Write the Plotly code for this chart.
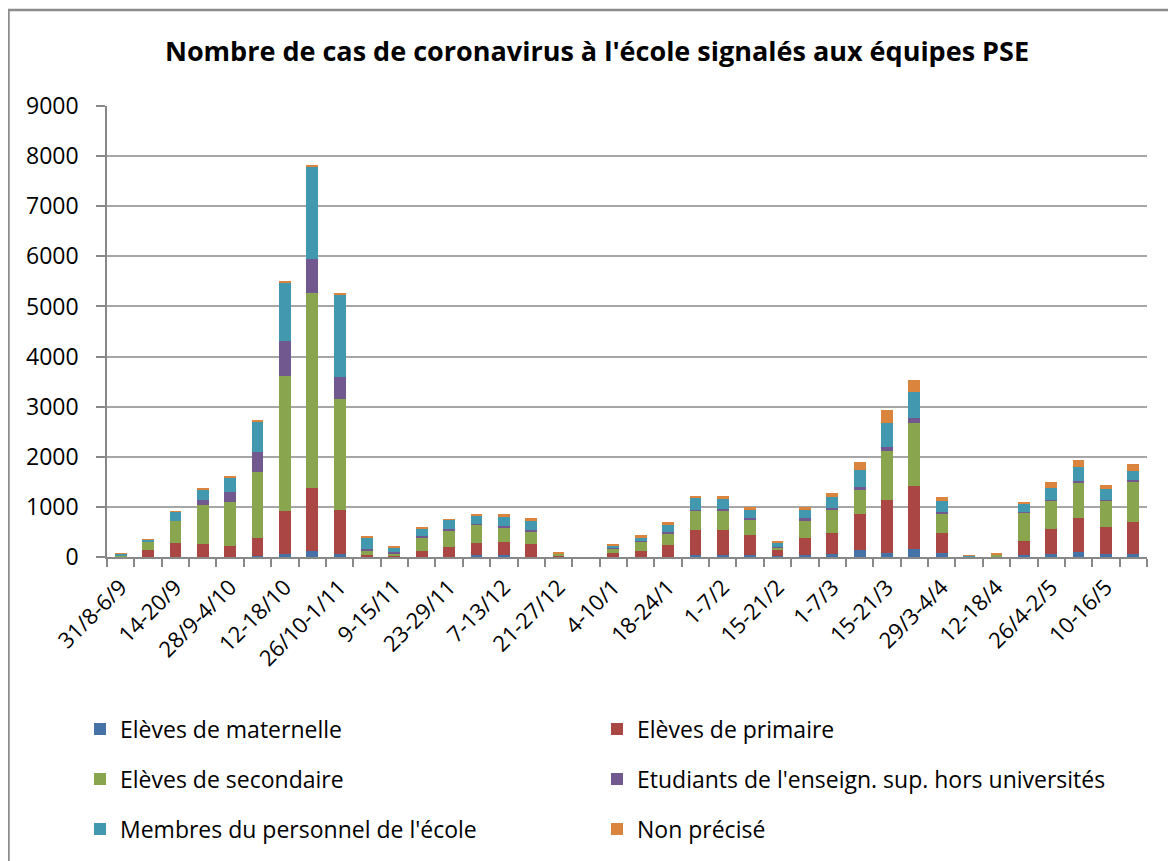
import plotly.graph_objects as go

weeks = ["31/8-6/9", "7-13/9", "14-20/9", "21-27/9", "28/9-4/10", "5-11/10", "12-18/10",
         "19-25/10", "26/10-1/11", "2-8/11", "9-15/11", "16-22/11", "23-29/11", "30/11-6/12",
         "7-13/12", "14-20/12", "21-27/12", "28/12-3/1", "4-10/1", "11-17/1", "18-24/1",
         "25-31/1", "1-7/2", "8-14/2", "15-21/2", "22-28/2", "1-7/3", "8-14/3", "15-21/3",
         "22-28/3", "29/3-4/4", "5-11/4", "12-18/4", "19-25/4", "26/4-2/5", "3-9/5",
         "10-16/5", "17-23/5"]

maternelle = [3, 5, 10, 10, 10, 27, 67, 113, 67, 10, 5, 5, 5, 33, 33, 5, 3, 0, 3, 5,
              5, 33, 33, 33, 20, 33, 67, 133, 87, 167, 87, 3, 2, 33, 60, 93, 60, 60]
primaire = [8, 130, 260, 257, 210, 353, 847, 1267, 867, 27, 15, 110, 195, 240, 267, 248, 30, 0, 67, 113,
            227, 507, 507, 400, 127, 353, 420, 720, 1053, 1240, 393, 2, 5, 293, 507, 687, 540, 633]
secondaire = [25, 165, 450, 767, 873, 1313, 2700, 3887, 2213, 73, 30, 265, 333, 367, 287, 260, 30, 0, 100, 187,
              233, 393, 387, 313, 40, 333, 447, 493, 973, 1260, 373, 2, 35, 553, 553, 687, 520, 813]
etudiants = [2, 3, 5, 107, 207, 393, 687, 687, 440, 53, 55, 33, 33, 27, 33, 27, 2, 0, 13, 20,
             27, 13, 33, 27, 13, 53, 47, 53, 73, 107, 47, 0, 0, 27, 27, 47, 27, 27]
personnel = [22, 45, 175, 207, 293, 613, 1167, 1827, 1660, 220, 75, 153, 180, 167, 180, 173, 2, 0, 47, 73,
             153, 247, 207, 167, 80, 167, 220, 347, 480, 527, 213, 25, 5, 160, 233, 287, 207, 187]
non_precise = [3, 3, 5, 33, 20, 27, 20, 47, 20, 27, 20, 27, 7, 20, 53, 60, 20, 0, 27, 33,
               47, 27, 53, 60, 47, 53, 73, 153, 260, 233, 80, 3, 20, 27, 107, 133, 80, 133]

series_names = ["Elèves de maternelle", "Elèves de primaire", "Elèves de secondaire",
                "Etudiants de l'enseign. sup. hors universités",
                "Membres du personnel de l'école", "Non précisé"]
series_values = [maternelle, primaire, secondaire, etudiants, personnel, non_precise]
colors = ["#4572A7", "#AA4643", "#89A54E", "#71588F", "#4198AF", "#DB843D"]
legend_ids = ["legend", "legend", "legend2", "legend2", "legend3", "legend3"]

tick_text = [w if i % 2 == 0 else "" for i, w in enumerate(weeks)]

FONT = "Open Sans"
W, H = 1168, 853
ML, MR, MT, MB = 99, 29, 98, 304

fig = go.Figure()
for name, vals, col, lg in zip(series_names, series_values, colors, legend_ids):
    fig.add_trace(go.Bar(x=weeks, y=vals, name=name, marker_color=col,
                         marker_line_width=0, legend=lg))

pw = W - ML - MR
ph = H - MT - MB

legend_common = dict(orientation="h", xref="container", yref="container",
                     x=72 / W, xanchor="left", yanchor="middle",
                     entrywidth=472, entrywidthmode="pixels", traceorder="normal",
                     font=dict(family=FONT, size=23, color="#000000"),
                     bgcolor="rgba(0,0,0,0)")

fig.update_layout(
    width=W, height=H, autosize=False,
    margin=dict(l=ML, r=MR, t=MT, b=MB),
    paper_bgcolor="white", plot_bgcolor="white",
    barmode="stack", bargap=0.57,
    font=dict(family=FONT, color="#000000"),
    title=dict(text="<b>Nombre de cas de coronavirus à l'école signalés aux équipes PSE</b>",
               x=(597 - 8) / W, xref="container", xanchor="center",
               y=1 - 44 / H, yref="container", yanchor="middle",
               font=dict(family=FONT, size=27, color="#000000")),
    legend=dict(legend_common, y=1 - 721 / H),
    legend2=dict(legend_common, y=1 - 771 / H),
    legend3=dict(legend_common, y=1 - 821 / H),
    xaxis=dict(type="category", tickmode="array", tickvals=weeks, ticktext=tick_text,
               tickson="boundaries", ticks="outside", ticklen=8, tickcolor="#888888",
               tickwidth=1.5, tickangle=-45, showline=True, linecolor="#888888", linewidth=1.5,
               ticklabelstandoff=7,
               showgrid=False, tickfont=dict(family=FONT, size=22, color="#000000")),
    yaxis=dict(range=[0, 9000], dtick=1000, tick0=0, ticks="outside", ticklen=9,
               tickcolor="#888888", tickwidth=1.5, showline=True, linecolor="#888888",
               linewidth=1.5, showgrid=True, gridcolor="#A6A6A6", gridwidth=1.5,
               ticklabelstandoff=13,
               zeroline=False, tickfont=dict(family=FONT, size=23, color="#000000")),
    shapes=[dict(type="rect", xref="paper", yref="paper",
                 x0=(0.5 - ML) / pw, x1=(W + 20 - ML) / pw,
                 y0=-(MB + 20) / ph, y1=1 + (MT - 2) / ph,
                 line=dict(color="#8C8C8C", width=2.5), fillcolor="rgba(0,0,0,0)",
                 layer="below")],
)

fig.write_html("out.html")
